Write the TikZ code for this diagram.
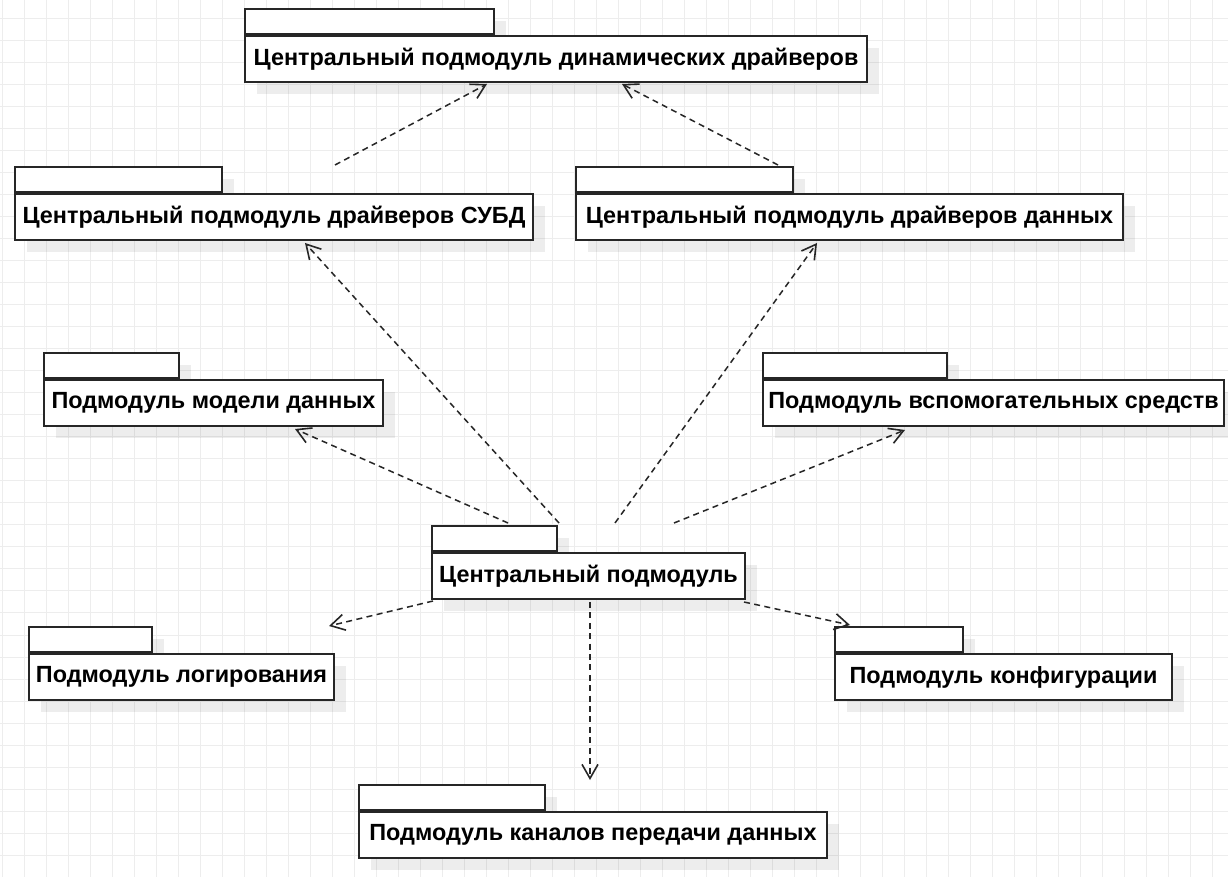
\documentclass[tikz,border=0pt]{standalone}
\usepackage{fontspec}
\setmainfont{Liberation Sans}
\usetikzlibrary{arrows.meta,calc,shadows}

\begin{document}
\begin{tikzpicture}[x=0.5pt,y=-0.5pt,
	gridline/.style={draw=black!7,line width=0.5pt},
	pkgtab/.style={draw=black!85,line width=1pt,fill=white,anchor=south west,inner sep=0pt,minimum height=12.5pt,drop shadow={shadow xshift=6pt,shadow yshift=-6pt,fill=black,opacity=0.07}},
	pkg/.style={draw=black!85,line width=1pt,fill=white,anchor=north west,inner sep=0pt,minimum height=23pt,font=\fontsize{11.7}{14}\selectfont\bfseries,drop shadow={shadow xshift=6pt,shadow yshift=-6pt,fill=black,opacity=0.07}},
	dep/.style={draw=black!85,line width=0.75pt,dash pattern=on 3pt off 2.2pt,-{Straight Barb[length=7pt,width=8pt,line width=0.8pt]}}]
	\useasboundingbox (0,0) rectangle (1228,877);
	\fill[white] (0,0) rectangle (1228,877);
	\foreach \gx in {2,24,...,1226}
		\draw[gridline] (\gx,0) -- (\gx,877);
	\foreach \gy in {19,41,...,877}
		\draw[gridline] (0,\gy) -- (1228,\gy);

	\node[pkgtab,minimum width=124.5pt] (dyn tab) at (244,35) {};
	\node[pkg,minimum width=311pt] (dyn) at (dyn tab.south west) {Центральный подмодуль динамических драйверов};

	\node[pkgtab,minimum width=103.5pt] (dbms tab) at (14,193) {};
	\node[pkg,minimum width=259pt] (dbms) at (dbms tab.south west) {Центральный подмодуль драйверов СУБД};

	\node[pkgtab,minimum width=108.5pt] (data tab) at (575,193) {};
	\node[pkg,minimum width=273.5pt] (data) at (data tab.south west) {Центральный подмодуль драйверов данных};

	\node[pkgtab,minimum width=67.5pt] (model tab) at (43,379) {};
	\node[pkg,minimum width=169.5pt] (model) at (model tab.south west) {Подмодуль модели данных};

	\node[pkgtab,minimum width=92pt] (aux tab) at (762,379) {};
	\node[pkg,minimum width=230.5pt] (aux) at (aux tab.south west) {Подмодуль вспомогательных средств};

	\node[pkgtab,minimum width=62.5pt] (core tab) at (431,552) {};
	\node[pkg,minimum width=156.5pt] (core) at (core tab.south west) {Центральный подмодуль};

	\node[pkgtab,minimum width=61.5pt] (log tab) at (28,653) {};
	\node[pkg,minimum width=152.5pt] (log) at (log tab.south west) {Подмодуль логирования};

	\node[pkgtab,minimum width=64pt] (conf tab) at (834,653) {};
	\node[pkg,minimum width=168.5pt] (conf) at (conf tab.south west) {Подмодуль конфигурации};

	\node[pkgtab,minimum width=93pt] (chan tab) at (358,811) {};
	\node[pkg,minimum width=234pt] (chan) at (chan tab.south west) {Подмодуль каналов передачи данных};

	\draw[dep] ($(dbms tab.north west)+(321,-1)$) -- ($(dyn.south west)+(243,1)$);
	\draw[dep] ($(data tab.north west)+(203,-1)$) -- ($(dyn.south west)+(378,1)$);
	\draw[dep] ($(core tab.north east)+(1,-2)$) -- ($(dbms.south west)+(291,2)$);
	\draw[dep] ($(core tab.north west)+(77,-2)$) -- ($(model.south west)+(252,2)$);
	\draw[dep] ($(core tab.north east)+(57,-2)$) -- ($(data.south west)+(242,2)$);
	\draw[dep] ($(core tab.north east)+(116,-2)$) -- ($(aux.south west)+(143,3)$);
	\draw[dep] ($(core.south west)+(2,1)$) -- ($(log.north east)+(-6,-27)$);
	\draw[dep] ($(core.south east)+(-2,2)$) -- ($(conf tab.north west)+(16,-1)$);
	\draw[dep] ($(core.south west)+(159,2)$) -- ($(chan tab.north west)+(232,-4)$);
\end{tikzpicture}
\end{document}
